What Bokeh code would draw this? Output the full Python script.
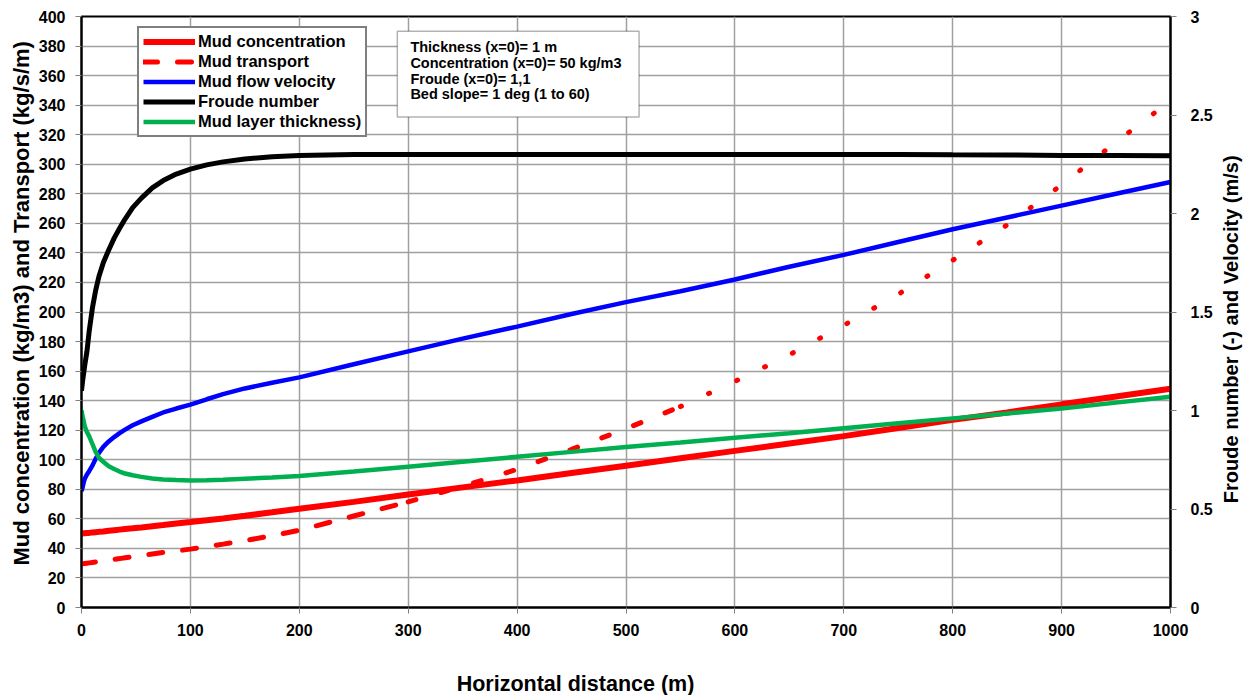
import math
from bokeh.plotting import figure
from bokeh.layouts import column, row
from bokeh.models import Range1d, LinearAxis, Legend, LegendItem, BoxAnnotation, Label, Title
from bokeh.embed import file_html
from bokeh.resources import INLINE

# ---- data ----
distance = [0, 1, 2, 3, 5, 7, 10, 13, 16, 20, 25, 30, 35, 40, 47, 55, 65, 75, 87, 100, 115, 130,
            150, 175, 200, 250, 300, 350, 400, 450, 500, 550, 600, 650, 700, 750, 800, 850, 900,
            950, 1000]
concentration = [50, 50.1, 50.2, 50.2, 50.4, 50.5, 50.8, 51, 51.2, 51.5, 51.9, 52.3, 52.7, 53.1,
                 53.6, 54.2, 55, 55.8, 56.8, 57.8, 59, 60.3, 62.1, 64.4, 66.8,
                 71.5, 76.5, 81.3, 86, 91, 96, 101, 106, 111, 116, 121.5, 127, 132, 137.5, 142.8, 148]
transport = [29.5, 29.6, 29.7, 29.8, 30, 30.2, 30.5, 30.8, 31.1, 31.5, 32, 32.6, 33.1, 33.7,
             34.4, 35.2, 36.2, 37.2, 38.3, 39.5, 41.2, 42.9, 45.3, 48.5, 52.3,
             61.9, 71.5, 82, 93.5, 107, 121, 136, 153, 171, 191, 212, 235, 259, 286, 315, 343]
velocity = [0.59, 0.61, 0.635, 0.653, 0.675, 0.692, 0.72, 0.755, 0.785, 0.815, 0.843, 0.865, 0.885,
            0.903, 0.925, 0.945, 0.968, 0.99, 1.01, 1.03, 1.057, 1.083, 1.112, 1.141, 1.168,
            1.235, 1.30, 1.365, 1.426, 1.49, 1.55, 1.605, 1.665, 1.73, 1.79, 1.855, 1.92,
            1.98, 2.04, 2.10, 2.16]
froude = [1.10, 1.15, 1.19, 1.23, 1.30, 1.40, 1.52, 1.61, 1.68, 1.75, 1.815, 1.875, 1.925, 1.972,
          2.03, 2.078, 2.13, 2.167, 2.20, 2.225, 2.247, 2.262, 2.277, 2.288, 2.295,
          2.299, 2.30, 2.30, 2.30, 2.30, 2.30, 2.30, 2.30, 2.30, 2.30, 2.30, 2.298, 2.297, 2.295,
          2.295, 2.293]
thickness = [1.0, 0.97, 0.945, 0.92, 0.89, 0.87, 0.83, 0.79, 0.76, 0.74, 0.717, 0.703, 0.69, 0.68,
             0.671, 0.663, 0.655, 0.65, 0.647, 0.645, 0.646, 0.649, 0.654, 0.66, 0.668,
             0.69, 0.715, 0.74, 0.765, 0.79, 0.815, 0.838, 0.862, 0.885, 0.91, 0.935, 0.96,
             0.985, 1.01, 1.04, 1.07]

x_ticks = list(range(0, 1001, 100))
left_ticks = list(range(0, 401, 20))
right_ticks = [0, 0.5, 1, 1.5, 2, 2.5, 3]

series_labels = ["Mud concentration", "Mud transport", "Mud flow velocity",
                 "Froude number", "Mud layer thickness)"]
info_lines = ["Thickness (x=0)= 1 m", "Concentration (x=0)= 50 kg/m3",
              "Froude (x=0)= 1,1", "Bed slope= 1 deg (1 to 60)"]
x_title = "Horizontal distance (m)"
left_title = "Mud concentration (kg/m3) and Transport (kg/s/m)"
right_title = "Froude number (-) and Velocity (m/s)"

FONT = "Liberation Sans"

# ---------------- main chart ----------------
p = figure(width=1220, height=650, x_range=Range1d(0, 1000), y_range=Range1d(0, 400),
           output_backend="svg", toolbar_location=None,
           min_border_left=81, min_border_right=50, min_border_top=16, min_border_bottom=43)
p.extra_y_ranges = {"right": Range1d(0, 3)}

p.outline_line_color = "black"
p.outline_line_width = 2
p.background_fill_color = "white"

for g in (p.xgrid, p.ygrid):
    g.grid_line_color = "#a0a0a0"
    g.grid_line_width = 1.5

p.xaxis.ticker = x_ticks
p.yaxis.ticker = left_ticks
right_axis = LinearAxis(y_range_name="right", ticker=right_ticks,
                        major_label_overrides={v: f"{v:g}" for v in right_ticks})
p.add_layout(right_axis, "right")

for ax in (p.xaxis[0], p.yaxis[0], right_axis):
    ax.major_label_text_font = FONT
    ax.major_label_text_font_style = "bold"
    ax.major_label_text_font_size = "16px"
    ax.major_label_text_color = "black"
    ax.axis_line_color = "black"
    ax.axis_line_width = 2
    ax.major_tick_line_color = "#808080"
    ax.major_tick_out = 6
    ax.major_tick_in = 0
    ax.minor_tick_line_color = None

p.xaxis.major_label_standoff = 10
p.yaxis.major_label_standoff = 10
right_axis.major_label_standoff = 14

# left title (side-panel title, reads bottom-to-top)
lt = Title(text=left_title, align="left", offset=42, text_font=FONT, text_font_style="bold",
           text_font_size="22px", text_color="black")
if "standoff" in Title.properties():
    lt.standoff = 3
p.add_layout(lt, "left")

# series
r_conc = p.line(distance, concentration, line_color="#ff0000", line_width=6)

k1 = distance.index(300)
k2 = distance.index(550)
r_tr1 = p.line(distance[:k1 + 1], transport[:k1 + 1], line_color="#ff0000", line_width=5,
               line_dash="14 20", line_cap="round")
r_tr2 = p.line(distance[k1:k2 + 1], transport[k1:k2 + 1], line_color="#ff0000", line_width=5,
               line_dash="8 26", line_cap="round")
r_tr3 = p.line(distance[k2:], transport[k2:], line_color="#ff0000", line_width=5,
               line_dash="1 30", line_cap="round")

r_vel = p.line(distance, velocity, line_color="#0000ff", line_width=4.5, y_range_name="right")
r_fr = p.line(distance, froude, line_color="black", line_width=5, y_range_name="right")
r_th = p.line(distance, thickness, line_color="#00b050", line_width=4.5, y_range_name="right")

legend = Legend(items=[LegendItem(label=series_labels[0], renderers=[r_conc]),
                       LegendItem(label=series_labels[1], renderers=[r_tr1]),
                       LegendItem(label=series_labels[2], renderers=[r_vel]),
                       LegendItem(label=series_labels[3], renderers=[r_fr]),
                       LegendItem(label=series_labels[4], renderers=[r_th])],
                location=(56, 470))
legend.label_text_font = FONT
legend.label_text_font_style = "bold"
legend.label_text_font_size = "16.5px"
legend.label_text_color = "black"
legend.label_height = 19
legend.glyph_height = 19
legend.glyph_width = 52
legend.label_standoff = 3
legend.spacing = 1
legend.padding = 4
legend.margin = 0
legend.border_line_color = "black"
legend.border_line_width = 2
legend.background_fill_color = "white"
legend.background_fill_alpha = 1
p.add_layout(legend)

# info box
box = BoxAnnotation(left=290, right=512, top=390, bottom=332, fill_color="white", fill_alpha=1,
                    line_color="black", line_width=1.5)
p.add_layout(box)
for i, t in enumerate(info_lines):
    p.add_layout(Label(x=302, y=379.2 - i * 10.6, text=t, text_font=FONT, text_font_style="bold",
                       text_font_size="14.5px", text_baseline="middle", text_color="black"))


# ---------------- title strips (right and bottom) ----------------
def strip(w, h):
    f = figure(width=w, height=h, x_range=Range1d(0, w), y_range=Range1d(0, h),
               x_axis_location=None, y_axis_location=None, toolbar_location=None,
               output_backend="svg", min_border=0)
    f.outline_line_color = None
    f.grid.grid_line_color = None
    f.background_fill_color = "white"
    f.border_fill_color = "white"
    return f


p_right = strip(34, 650)
p_right.add_layout(Label(x=10, y=306, text=right_title, angle=math.pi / 2, text_align="center",
                         text_baseline="middle", text_font=FONT, text_font_style="bold",
                         text_font_size="20px", text_color="black"))

p_bottom = strip(1254, 45)
p_bottom.add_layout(Label(x=575, y=12, text=x_title, text_align="center",
                          text_baseline="middle", text_font=FONT, text_font_style="bold",
                          text_font_size="21.5px", text_color="black"))

layout = column(row(p, p_right, spacing=0), p_bottom, spacing=0)

open("out.html", "w").write(file_html(layout, INLINE))
